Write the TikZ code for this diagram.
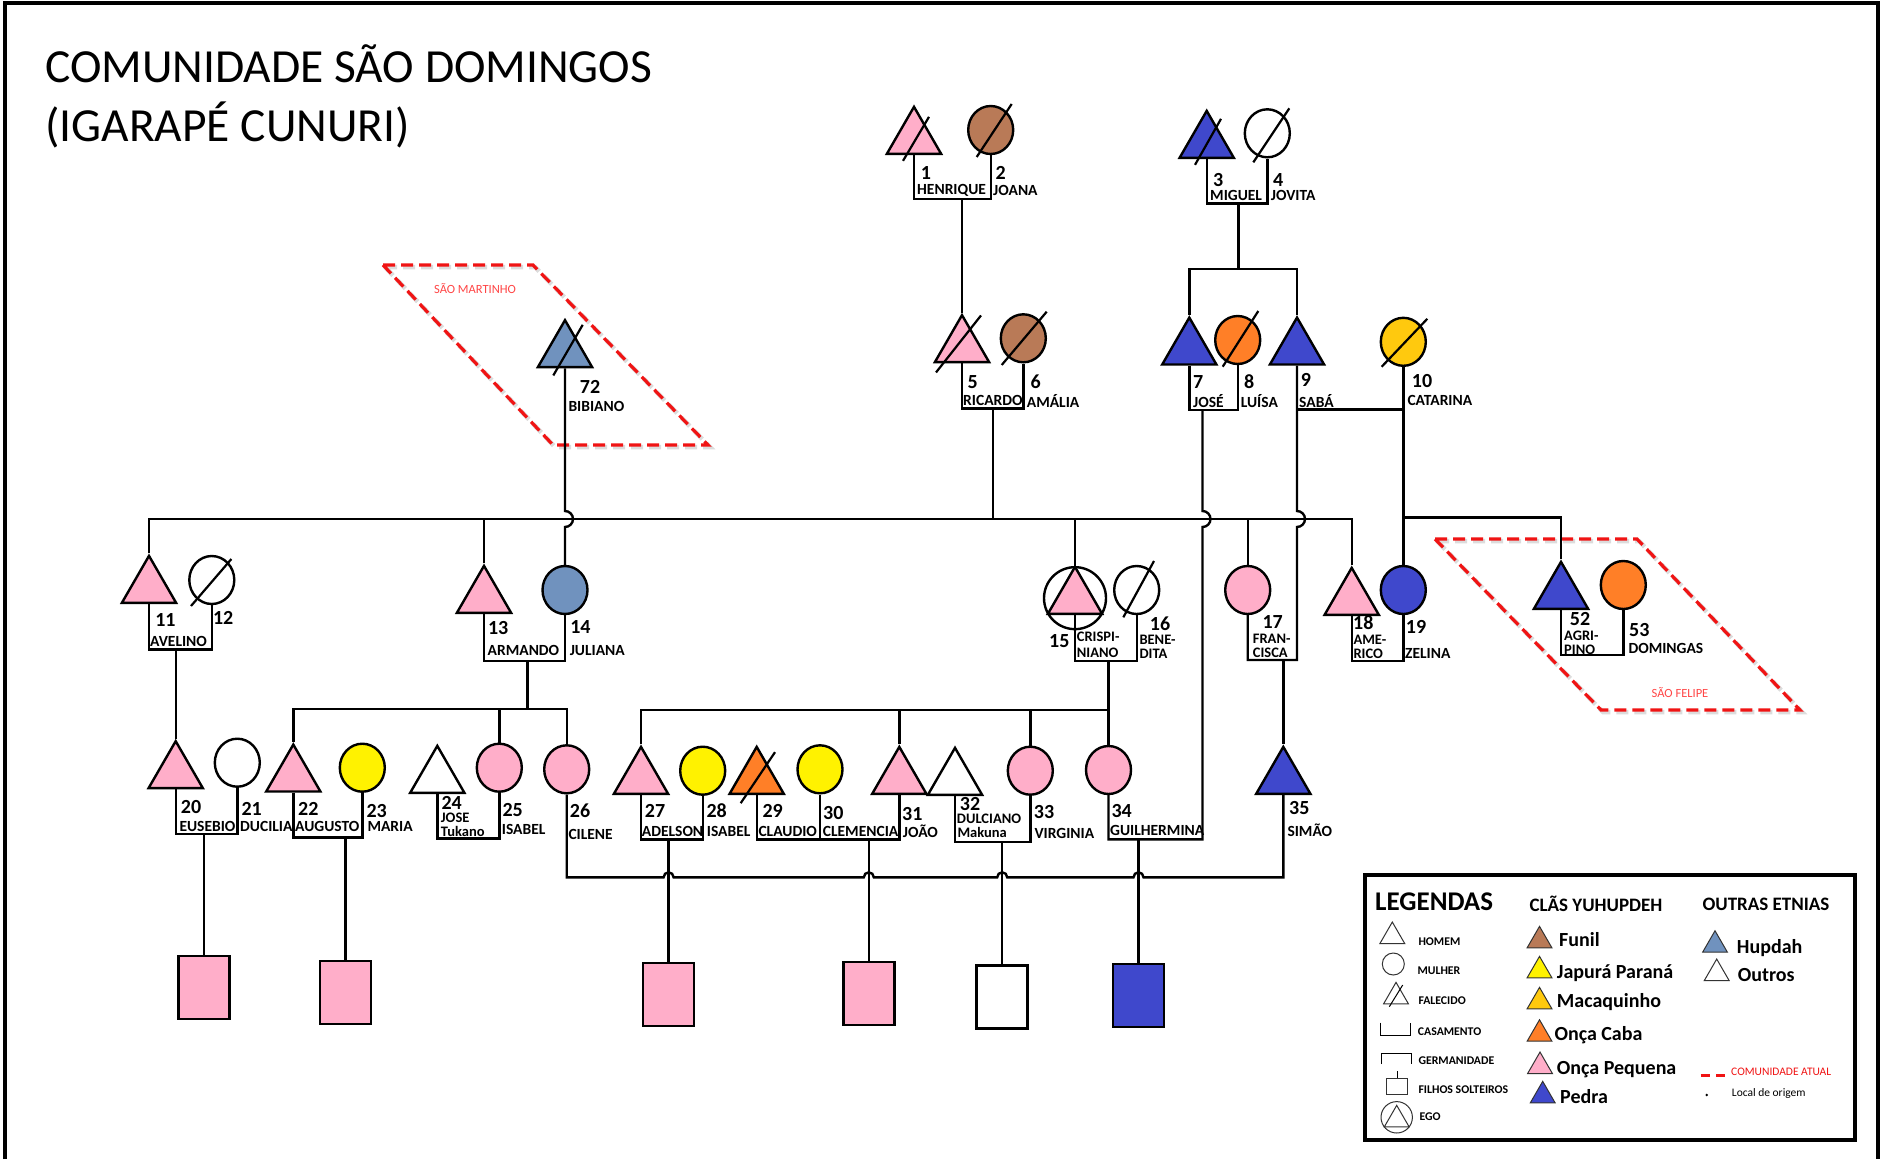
\documentclass[tikz,border=0pt]{standalone}
\usepackage{fontspec}
\setmainfont{Carlito}
\usetikzlibrary{shapes.geometric,calc}

\definecolor{oncapeq}{RGB}{255,174,201}
\definecolor{funil}{RGB}{185,122,87}
\definecolor{pedra}{RGB}{63,72,204}
\definecolor{hupdah}{RGB}{112,146,190}
\definecolor{japura}{RGB}{255,242,0}
\definecolor{oncacaba}{RGB}{255,127,39}
\definecolor{macaquinho}{RGB}{255,201,14}
\definecolor{comred}{RGB}{240,20,20}
\definecolor{regtext}{RGB}{255,70,70}

% slash across a deceased person: node, then two offsets from its centre
\newcommand\deadmark[5]{\draw[deadline] ($(#1)+(#2,#3)$) -- ($(#1)+(#4,#5)$);}

\begin{document}
\begin{tikzpicture}[x=1pt,y=-1pt,
  link/.style={line width=2.4pt},
  male/.style={regular polygon, regular polygon sides=3, minimum size=62.6pt,
    inner sep=0pt, draw, line width=2.4pt},
  female/.style={ellipse, minimum width=45pt, minimum height=48pt,
    inner sep=0pt, draw, line width=2.4pt},
  singlebox/.style={rectangle, minimum width=51pt, minimum height=63pt,
    inner sep=0pt, draw, line width=2.6pt},
  deadline/.style={line width=2.2pt},
  num/.style={inner sep=0pt, font=\fontsize{20}{22}\selectfont\bfseries},
  pname/.style={inner sep=0pt, anchor=west, font=\fontsize{15.5}{16}\selectfont\bfseries},
  pname2/.style={inner sep=0pt, anchor=west, font=\fontsize{14.5}{15}\selectfont\bfseries},
  region/.style={draw=comred, line width=3.2pt, dash pattern=on 12pt off 6pt},
  regionshade/.style={draw=black!30, line width=4.5pt, dash pattern=on 12pt off 6pt, opacity=.45},
  regtxt/.style={inner sep=0pt, text=regtext, font=\fontsize{12.5}{13}\selectfont},
  legtri/.style={regular polygon, regular polygon sides=3, minimum size=28.6pt,
    inner sep=0pt, draw=black!80, line width=1pt},
  legtxt/.style={anchor=base west, inner sep=0pt, font=\fontsize{11.8}{13}\selectfont\bfseries},
  clantxt/.style={anchor=base west, inner sep=0pt, font=\fontsize{20}{22}\selectfont\bfseries},
  headtxt/.style={anchor=base west, inner sep=0pt, font=\fontsize{19}{21}\selectfont\bfseries},
  titletxt/.style={anchor=base west, inner sep=0pt, font=\fontsize{47.5}{56}\selectfont}
]
\useasboundingbox (0,0) rectangle (1887,1159);
\fill[white] (0,0) rectangle (1887,1159);

% outer frame
\draw[line width=4pt] (5,1159) -- (5,3) -- (1878,3) -- (1878,1159);

% title
\node[titletxt] (title1) at (45,82.3) {COMUNIDADE SÃO DOMINGOS};
\node[titletxt] (title2) at (45,141.7) {(IGARAPÉ CUNURI)};

% communities of origin
\draw[regionshade] (385,267) -- (535,267) -- (710,447) -- (555,447) -- cycle;
\draw[region] (383,265) -- (533,265) -- (708,445) -- (553,445) -- cycle;
\node[regtxt] (rmart) at (475,289) {SÃO MARTINHO};
\draw[regionshade] (1437,541) -- (1639,541) -- (1802,712) -- (1603,712) -- cycle;
\draw[region] (1435,539) -- (1637,539) -- (1800,710) -- (1601,710) -- cycle;
\node[regtxt] (rfel) at (1680,693) {SÃO FELIPE};

% ---------- people ----------
% generation 1
\node[male, fill=oncapeq, anchor=side 2] (p1) at (914,155) {};
\node[female, fill=funil] (p2) at (990.7,130) {};
\node[male, fill=pedra, anchor=side 2] (p3) at (1206.7,159) {};
\node[female, fill=white] (p4) at (1267.3,133.3) {};
% generation 2
\node[male, fill=oncapeq, anchor=side 2] (p5) at (962,363.3) {};
\node[female, fill=funil] (p6) at (1023.3,338.3) {};
\node[male, fill=pedra, anchor=side 2] (p7) at (1189.3,365.7) {};
\node[female, fill=oncacaba] (p8) at (1237.7,340) {};
\node[male, fill=pedra, anchor=side 2] (p9) at (1297,365.7) {};
\node[female, fill=macaquinho] (p10) at (1403.3,341.8) {};
\node[male, fill=hupdah, anchor=side 2] (p72) at (565,368.3) {};
% generation 3
\node[male, fill=oncapeq, anchor=side 2] (p11) at (149,604) {};
\node[female, fill=white] (p12) at (211.8,580) {};
\node[male, fill=oncapeq, anchor=side 2] (p13) at (484,614) {};
\node[female, fill=hupdah] (p14) at (565,590) {};
\node[male, fill=oncapeq, anchor=side 2] (p15) at (1075,615) {};
\node[circle, draw, line width=2.4pt, minimum size=62pt, inner sep=0pt] (e15) at (p15.center) {};
\node[female, fill=white] (p16) at (1136.7,590) {};
\node[female, fill=oncapeq] (p17) at (1247.7,590) {};
\node[male, fill=oncapeq, anchor=side 2] (p18) at (1351.7,616) {};
\node[female, fill=pedra] (p19) at (1403.3,590) {};
\node[male, fill=pedra, anchor=side 2] (p52) at (1561,610) {};
\node[female, fill=oncacaba] (p53) at (1623.3,585) {};
% generation 4
\node[male, fill=oncapeq, anchor=side 2] (p20) at (175.7,789.3) {};
\node[female, fill=white] (p21) at (237.3,762.7) {};
\node[male, fill=oncapeq, anchor=side 2] (p22) at (293.3,792.7) {};
\node[female, fill=japura] (p23) at (362.3,767.7) {};
\node[male, fill=white, anchor=side 2] (p24) at (437.3,794) {};
\node[female, fill=oncapeq] (p25) at (499.3,767.7) {};
\node[female, fill=oncapeq] (p26) at (566.7,769.3) {};
\node[male, fill=oncapeq, anchor=side 2] (p27) at (641,795) {};
\node[female, fill=japura] (p28) at (702.7,770.7) {};
\node[male, fill=oncacaba, anchor=side 2] (p29) at (756.7,795) {};
\node[female, fill=japura] (p30) at (820,769.3) {};
\node[male, fill=oncapeq, anchor=side 2] (p31) at (899.3,795) {};
\node[male, fill=white, anchor=side 2] (p32) at (955,796) {};
\node[female, fill=oncapeq] (p33) at (1030.3,770.7) {};
\node[female, fill=oncapeq] (p34) at (1108.5,770) {};
\node[male, fill=pedra, anchor=side 2] (p35) at (1283.3,795) {};
% unmarried children
\node[singlebox, fill=oncapeq] (sq1) at (204.2,987.3) {};
\node[singlebox, fill=oncapeq] (sq2) at (345.5,992.3) {};
\node[singlebox, fill=oncapeq] (sq3) at (668.6,994.3) {};
\node[singlebox, fill=oncapeq] (sq4) at (868.8,993.3) {};
\node[singlebox, fill=white] (sq5) at (1002.2,996.7) {};
\node[singlebox, fill=pedra] (sq6) at (1138.5,995.3) {};

% deceased
\deadmark{p1}{-11}{22.7}{15}{-21.3}
\deadmark{p2}{-14}{27}{21}{-26}
\deadmark{p3}{-11.7}{22.7}{14.3}{-23.3}
\deadmark{p4}{-14}{29}{22}{-25}
\deadmark{p5}{-26}{26}{19}{-31}
\deadmark{p6}{-21.6}{26.7}{23.4}{-26.6}
\deadmark{p8}{-15}{26.7}{20.6}{-29}
\deadmark{p10}{-21.7}{25}{24}{-23}
\deadmark{p72}{-11.7}{24}{17.7}{-26.6}
\deadmark{p12}{-20.8}{26}{19.6}{-21}
\deadmark{p16}{-13.4}{27.3}{17.3}{-29}
\deadmark{p29}{-16}{25}{18.3}{-26}

% ---------- connectors ----------
\coordinate (barL) at (149,519);
\coordinate (barR) at (1351.7,519);
\coordinate (m12) at (962,199);
\coordinate (m34) at (1238.3,203.3);
\coordinate (sib79) at (1238.3,269);
\coordinate (m56) at (992.7,408.3);
\coordinate (m78) at (1202.5,410);
\coordinate (m910) at (1297,409.3);
\coordinate (sib52) at (1403.3,517.3);
\coordinate (m1112) at (175.7,649.3);
\coordinate (m1314) at (527.5,661);
\coordinate (sibA) at (527.5,709);
\coordinate (m1516) at (1108.5,660.7);
\coordinate (sibC) at (1108.5,710);
\coordinate (fbR) at (1297,660);
\coordinate (m17) at (1283.3,660);
\coordinate (m1819) at (1377,660.7);
\coordinate (m5253) at (1592,655);
\coordinate (m2021) at (204.2,834);
\coordinate (m2223) at (345.5,837.3);
\coordinate (m2425) at (468,838.3);
\coordinate (m2728) at (668.6,839.3);
\coordinate (m2931) at (868.8,839.3);
\coordinate (m3233) at (1002.2,841.7);
\coordinate (gbR) at (1202.5,839.3);
\coordinate (mG) at (1138.5,839.3);
\coordinate (cs) at (566.7,877.3);

% generation 1 couples
\draw[link] (p1.side 2) |- (m12) -| (p2.south);
\draw[link] (m12) -- (p5.corner 1);
\draw[link] (p3.side 2) |- (m34) -| (p4.south);
\draw[link] (m34) -- (sib79);
\draw[link] (p7.corner 1) |- (sib79) -| (p9.corner 1);

% generation 2 couples
\draw[link] (p5.side 2) |- (m56) -| (p6.south);
\draw[link] (m56) -- (m56 |- barL);
\draw[link] (p7.side 2) |- (m78) -| (p8.south);
\draw[link] (m78) -- ($(m78 |- barL)+(0,-8)$) arc[start angle=-90, end angle=90, radius=8] -- (gbR) -| (p34.south);
\draw[link] (p9.side 2) -- ($(p9.side 2 |- barL)+(0,-8)$) arc[start angle=-90, end angle=90, radius=8] -- (fbR) -| (p17.south);
\draw[link] (m910) -- (m910 -| p10.south);
\draw[link] (p10.south) -- (p19.north);
\draw[link] (sib52) -| (p52.corner 1);
\draw[link] (p72.side 2) -- ($(p72.side 2 |- barL)+(0,-8)$) arc[start angle=-90, end angle=90, radius=8] -- (p14.north);

% sibling bar of generation 3
\draw[link] (p11.corner 1) -- (barL) -- (barR) -- (p18.corner 1);
\draw[link] (p13.corner 1) -- (p13.corner 1 |- barL);
\draw[link] (e15.north) -- (e15.north |- barL);
\draw[link] (p17.north) -- (p17.north |- barL);

% generation 3 couples
\draw[link] (p11.side 2) |- (m1112) -| (p12.south);
\draw[link] (m1112) -- (p20.corner 1);
\draw[link] (p13.side 2) |- (m1314) -| (p14.south);
\draw[link] (m1314) -- (sibA);
\draw[link] (p22.corner 1) |- (sibA) -| (p26.north);
\draw[link] (p25.north) -- (p25.north |- sibA);
\draw[link] (p15.side 2) |- (m1516) -| (p16.south);
\draw[link] (m1516) -- (sibC);
\draw[link] (p27.corner 1) |- (sibC) -- (p34.north);
\draw[link] (p31.corner 1) -- (p31.corner 1 |- sibC);
\draw[link] (p33.north) -- (p33.north |- sibC);
\draw[link] (m17) -- (p35.corner 1);
\draw[link] (p18.side 2) |- (m1819) -| (p19.south);
\draw[link] (p52.side 2) |- (m5253) -| (p53.south);

% generation 4 couples
\draw[link] (p20.side 2) |- (m2021) -| (p21.south);
\draw[link] (m2021) -- (sq1.north);
\draw[link] (p22.side 2) |- (m2223) -| (p23.south);
\draw[link] (m2223) -- (sq2.north);
\draw[link] (p24.side 2) |- (m2425) -| (p25.south);
\draw[link] (p27.side 2) |- (m2728) -| (p28.south);
\draw[link] (m2728) -- (sq3.north);
\draw[link] (p29.side 2) |- (m2931) -| (p31.side 2);
\draw[link] (p30.south) -- (p30.south |- m2931);
\draw[link] (m2931) -- (sq4.north);
\draw[link] (p32.side 2) |- (m3233) -| (p33.south);
\draw[link] (m3233) -- (sq5.north);
\draw[link] (mG) -- (sq6.north);
\draw[link] (p26.south) -- (cs)
  -- ($(m2728 |- cs)+(-5,0)$) arc[start angle=180, end angle=360, radius=5]
  -- ($(m2931 |- cs)+(-5,0)$) arc[start angle=180, end angle=360, radius=5]
  -- ($(m3233 |- cs)+(-5,0)$) arc[start angle=180, end angle=360, radius=5]
  -- ($(mG |- cs)+(-5,0)$) arc[start angle=180, end angle=360, radius=5]
  -- (cs -| p35.side 2) -- (p35.side 2);

% ---------- numbers and names ----------
\node[num] (n1) at (926,173) {1};
\node[num] (n2) at (1000.7,172.7) {2};
\node[num] (n3) at (1218.3,180) {3};
\node[num] (n4) at (1278.3,180) {4};
\node[num] (n5) at (972.7,381.7) {5};
\node[num] (n6) at (1035.7,381.7) {6};
\node[num] (n7) at (1198.3,381.7) {7};
\node[num] (n8) at (1249.3,381.7) {8};
\node[num] (n9) at (1306,380) {9};
\node[num] (n10) at (1422,381) {10};
\node[num] (n72) at (590,387.3) {72};
\node[num] (n11) at (165.4,620) {11};
\node[num] (n12) at (223.2,618.3) {12};
\node[num] (n13) at (498.2,628.3) {13};
\node[num] (n14) at (580.4,626.7) {14};
\node[num] (n15) at (1059.3,640.7) {15};
\node[num] (n16) at (1160,624) {16};
\node[num] (n17) at (1272.7,622) {17};
\node[num] (n18) at (1363.3,622.5) {18};
\node[num] (n19) at (1416,626.7) {19};
\node[num] (n52) at (1580,619) {52};
\node[num] (n53) at (1639.3,630) {53};
\node[num] (n20) at (191,807.3) {20};
\node[num] (n21) at (251.7,809.3) {21};
\node[num] (n22) at (308.3,809.3) {22};
\node[num] (n23) at (376.7,810.7) {23};
\node[num] (n24) at (451.7,802.5) {24};
\node[num] (n25) at (512.7,810) {25};
\node[num] (n26) at (580,810.7) {26};
\node[num] (n27) at (655,810.7) {27};
\node[num] (n28) at (716.7,810.7) {28};
\node[num] (n29) at (772.7,810.7) {29};
\node[num] (n30) at (833.3,813.3) {30};
\node[num] (n31) at (912.3,814) {31};
\node[num] (n32) at (970,804) {32};
\node[num] (n33) at (1044,811.7) {33};
\node[num] (n34) at (1121.7,810.7) {34};
\node[num] (n35) at (1299.3,807.7) {35};

\node[pname] (t1) at (917,190) {HENRIQUE};
\node[pname] (t2) at (993,190) {JOANA};
\node[pname] (t3) at (1210,195) {MIGUEL};
\node[pname] (t4) at (1270.7,195) {JOVITA};
\node[pname] (t5) at (963,400.7) {RICARDO};
\node[pname] (t6) at (1026.7,400.7) {AMÁLIA};
\node[pname] (t7) at (1193,400.7) {JOSÉ};
\node[pname] (t8) at (1240.7,400.7) {LUÍSA};
\node[pname] (t9) at (1299,400.7) {SABÁ};
\node[pname] (t10) at (1407.3,400.7) {CATARINA};
\node[pname] (t72) at (568.3,406) {BIBIANO};
\node[pname] (t11) at (150,641.7) {AVELINO};
\node[pname] (t13) at (487.5,650.7) {ARMANDO};
\node[pname] (t14) at (569.6,650.7) {JULIANA};
\node[pname2] (t15a) at (1076.7,637) {CRISPI-};
\node[pname2] (t15b) at (1076.7,652.5) {NIANO};
\node[pname2] (t16a) at (1139.3,640) {BENE-};
\node[pname2] (t16b) at (1139.3,654) {DITA};
\node[pname2] (t17a) at (1252.7,638.5) {FRAN-};
\node[pname2] (t17b) at (1252.7,652.7) {CISCA};
\node[pname2] (t18a) at (1353.3,639.5) {AME-};
\node[pname2] (t18b) at (1353.3,653.5) {RICO};
\node[pname] (t19) at (1405,653.3) {ZELINA};
\node[pname2] (t52a) at (1564,636) {AGRI-};
\node[pname2] (t52b) at (1564,649.5) {PINO};
\node[pname] (t53) at (1628.3,648.3) {DOMINGAS};
\node[pname] (t20) at (179.3,826) {EUSEBIO};
\node[pname] (t21) at (240,826) {DUCILIA};
\node[pname] (t22) at (295,826.7) {AUGUSTO};
\node[pname] (t23) at (367.3,826.7) {MARIA};
\node[pname2] (t24a) at (440.7,817.5) {JOSE};
\node[pname2] (t24b) at (440.7,831) {Tukano};
\node[pname] (t25) at (501.7,829.3) {ISABEL};
\node[pname] (t26) at (568.3,834) {CILENE};
\node[pname] (t27) at (641.7,831.7) {ADELSON};
\node[pname] (t28) at (706.7,831.7) {ISABEL};
\node[pname] (t29) at (758.3,831.7) {CLAUDIO};
\node[pname] (t30) at (822.7,831.7) {CLEMENCIA};
\node[pname] (t31) at (902.7,831.7) {JOÃO};
\node[pname2] (t32a) at (956.7,818.5) {DULCIANO};
\node[pname2] (t32b) at (957.3,832) {Makuna};
\node[pname] (t33) at (1034.3,833.3) {VIRGINIA};
\node[pname] (t34) at (1110,830) {GUILHERMINA};
\node[pname] (t35) at (1287.3,830) {SIMÃO};

% ---------- legend ----------
\draw[line width=4pt] (1365,875) rectangle (1855,1140);
\node[anchor=base west, inner sep=0pt, font=\fontsize{27}{30}\selectfont\bfseries] (lgh) at (1375,910) {LEGENDAS};
\node[headtxt] (lgc) at (1529.3,911.7) {CLÃS YUHUPDEH};
\node[headtxt] (lgo) at (1702.3,910) {OUTRAS ETNIAS};

\node[legtri, fill=white, anchor=side 2] (lhm) at (1392.3,944) {};
\node[legtxt] (lhmt) at (1418.3,945) {HOMEM};
\node[circle, draw=black!80, line width=1pt, minimum size=22pt, inner sep=0pt] (lmu) at (1393.3,964) {};
\node[legtxt] (lmut) at (1417.3,974) {MULHER};
\node[legtri, fill=white, anchor=side 2] (lfa) at (1396,1004.3) {};
\draw[line width=1pt] (1389.3,1006.7) -- (1402.7,985);
\node[legtxt] (lfat) at (1418.3,1004) {FALECIDO};
\draw[line width=1pt] (1380.7,1022.7) -- (1380.7,1035) -- (1410,1035) -- (1410,1022.7);
\node[legtxt] (lcat) at (1417.7,1035.7) {CASAMENTO};
\draw[line width=1pt] (1381.7,1064) -- (1381.7,1053.3) -- (1411,1053.3) -- (1411,1064);
\node[legtxt] (lget) at (1418.3,1064) {GERMANIDADE};
\node[rectangle, draw=black!80, line width=1pt, minimum width=20.6pt, minimum height=15.7pt, inner sep=0pt] (lfs) at (1397,1086.2) {};
\draw[line width=1pt] (lfs.north) -- ++(0,-6.6);
\node[legtxt] (lfst) at (1418.3,1093.3) {FILHOS SOLTEIROS};
\node[legtri, fill=white, anchor=side 2] (leg) at (1396.7,1127.3) {};
\node[circle, draw=black!80, line width=1pt, minimum size=31.4pt, inner sep=0pt] (lec) at (1396.7,1117.3) {};
\node[legtxt] (legt) at (1419.3,1120.7) {EGO};

\node[legtri, fill=funil, anchor=side 2] (lc1) at (1539.5,948.3) {};
\node[clantxt] (lc1t) at (1559,946.7) {Funil};
\node[legtri, fill=japura, anchor=side 2] (lc2) at (1539.5,978.3) {};
\node[clantxt] (lc2t) at (1556.7,978.3) {Japurá Paraná};
\node[legtri, fill=macaquinho, anchor=side 2] (lc3) at (1539.5,1009.3) {};
\node[clantxt] (lc3t) at (1556.7,1007.7) {Macaquinho};
\node[legtri, fill=oncacaba, anchor=side 2] (lc4) at (1539.5,1041.7) {};
\node[clantxt] (lc4t) at (1554.3,1040.7) {Onça Caba};
\node[legtri, fill=oncapeq, anchor=side 2] (lc5) at (1540,1074) {};
\node[clantxt] (lc5t) at (1556.7,1074) {Onça Pequena};
\node[legtri, fill=pedra, anchor=side 2] (lc6) at (1542.7,1103.3) {};
\node[clantxt] (lc6t) at (1560,1103.3) {Pedra};

\node[legtri, fill=hupdah, anchor=side 2] (lo1) at (1715,952.7) {};
\node[clantxt] (lo1t) at (1736.7,953.3) {Hupdah};
\node[legtri, fill=white, anchor=side 2] (lo2) at (1716.7,981) {};
\node[clantxt] (lo2t) at (1737.7,981) {Outros};

\draw[comred, line width=3pt] (1700.7,1075) -- (1710,1075) (1716,1075) -- (1725,1075);
\node[anchor=base west, inner sep=0pt, text=comred, font=\fontsize{11.5}{13}\selectfont] (lcom) at (1731,1075) {COMUNIDADE ATUAL};
\fill (1706.7,1095) circle[radius=1.3];
\node[anchor=base west, inner sep=0pt, font=\fontsize{11.5}{13}\selectfont] (lloc) at (1731.7,1096.7) {Local de origem};
\end{tikzpicture}
\end{document}
